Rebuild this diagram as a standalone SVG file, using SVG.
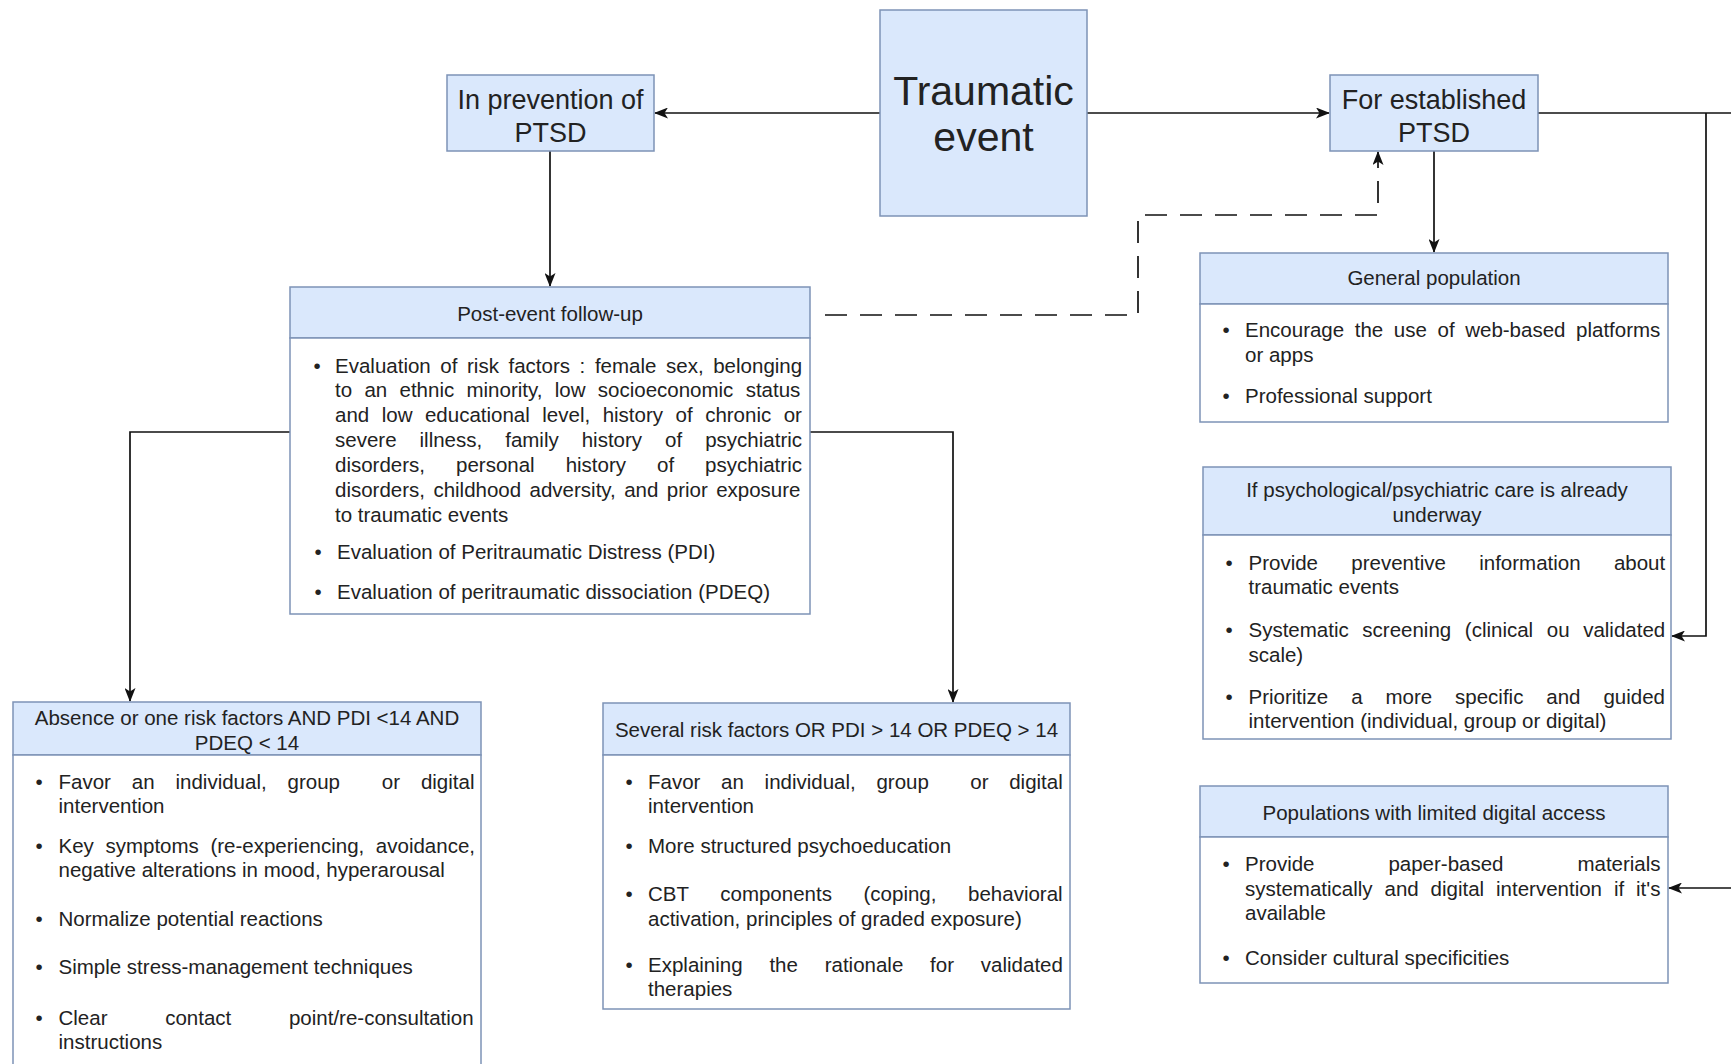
<svg xmlns="http://www.w3.org/2000/svg" width="1731" height="1064" viewBox="0 0 1731 1064">
<style>
.hdr{fill:#dae8fc;stroke:#7d93b6;stroke-width:1.5}
.bdy{fill:#ffffff;stroke:#7d93b6;stroke-width:1.5}
.t{font-family:"Liberation Sans",Arial,sans-serif;font-size:20.5px;fill:#222}
.big{font-family:"Liberation Sans",Arial,sans-serif;font-size:27px;fill:#222;text-anchor:middle}
.c{text-anchor:middle}
.conn{fill:none;stroke:#111;stroke-width:1.7}
.dash{stroke-dasharray:22 13}
</style>
<defs>
<marker id="arr" viewBox="0 0 14 11" refX="13" refY="5.5" markerWidth="14" markerHeight="11" markerUnits="userSpaceOnUse" orient="auto">
<path d="M0,0 L14,5.5 L0,11 L3.5,5.5 Z" fill="#111"/>
</marker>
</defs>
<rect width="1731" height="1064" fill="#ffffff"/>

<g id="connectors">
<path class="conn" d="M880,113 H655" marker-end="url(#arr)"/>
<path class="conn" d="M1087,113 H1329" marker-end="url(#arr)"/>
<path class="conn" d="M1538,113 H1731"/>
<path class="conn" d="M1706,113 V636 H1672" marker-end="url(#arr)"/>
<path class="conn" d="M1731,888 H1669" marker-end="url(#arr)"/>
<path class="conn" d="M550,151 V286" marker-end="url(#arr)"/>
<path class="conn" d="M1434,151 V252" marker-end="url(#arr)"/>
<path class="conn" d="M290,432 H130 V701" marker-end="url(#arr)"/>
<path class="conn" d="M810,432 H953 V702" marker-end="url(#arr)"/>
<path class="conn dash" d="M825,315 H1138 V215 H1378 V152" marker-end="url(#arr)"/>
</g>

<g id="traumatic-event">
<rect class="hdr" x="880" y="10" width="207" height="206"/>
<text class="t c" x="983.5" y="104.5" style="font-size:41px">Traumatic</text>
<text class="t c" x="983.5" y="151" style="font-size:41px">event</text>
</g>

<g id="prevention">
<rect class="hdr" x="447" y="75" width="207" height="76"/>
<text class="big" x="550.5" y="109">In prevention of</text>
<text class="big" x="550.5" y="142">PTSD</text>
</g>

<g id="established">
<rect class="hdr" x="1330" y="75" width="208" height="76"/>
<text class="big" x="1434" y="109">For established</text>
<text class="big" x="1434" y="142">PTSD</text>
</g>

<g id="post-event">
<rect class="hdr" x="290" y="287" width="520" height="51"/>
<rect class="bdy" x="290" y="338" width="520" height="276"/>
<text class="t c" x="550" y="320.5">Post-event follow-up</text>
<text class="t c" x="317" y="373">•</text>
<text class="t" x="335" y="373" style="word-spacing:3.9px">Evaluation of risk factors : female sex, belonging</text>
<text class="t" x="335" y="397" style="word-spacing:6.6px">to an ethnic minority, low socioeconomic status</text>
<text class="t" x="335" y="422" style="word-spacing:6.8px">and low educational level, history of chronic or</text>
<text class="t" x="335" y="447" style="word-spacing:17.3px">severe illness, family history of psychiatric</text>
<text class="t" x="335" y="472" style="word-spacing:25.3px">disorders, personal history of psychiatric</text>
<text class="t" x="335" y="497" style="word-spacing:2.7px">disorders, childhood adversity, and prior exposure</text>
<text class="t" x="335" y="522">to traumatic events</text>
<text class="t c" x="318" y="559">•</text>
<text class="t" x="337" y="559">Evaluation of Peritraumatic Distress (PDI)</text>
<text class="t c" x="318" y="599">•</text>
<text class="t" x="337" y="599">Evaluation of peritraumatic dissociation (PDEQ)</text>
</g>

<g id="general-population">
<rect class="hdr" x="1200" y="253" width="468" height="51"/>
<rect class="bdy" x="1200" y="304" width="468" height="118"/>
<text class="t c" x="1434" y="285">General population</text>
<text class="t c" x="1226" y="337">•</text>
<text class="t" x="1245" y="337" style="word-spacing:4.9px">Encourage the use of web-based platforms</text>
<text class="t" x="1245" y="362">or apps</text>
<text class="t c" x="1226" y="403">•</text>
<text class="t" x="1245" y="403">Professional support</text>
</g>

<g id="care-underway">
<rect class="hdr" x="1203" y="467" width="468" height="68"/>
<rect class="bdy" x="1203" y="535" width="468" height="204"/>
<text class="t c" x="1437" y="497">If psychological/psychiatric care is already</text>
<text class="t c" x="1437" y="522">underway</text>
<text class="t c" x="1229" y="570">•</text>
<text class="t" x="1248.5" y="570" style="word-spacing:27.6px">Provide preventive information about</text>
<text class="t" x="1248.5" y="594">traumatic events</text>
<text class="t c" x="1229" y="637">•</text>
<text class="t" x="1248.5" y="637" style="word-spacing:7.9px">Systematic screening (clinical ou validated</text>
<text class="t" x="1248.5" y="662">scale)</text>
<text class="t c" x="1229" y="704">•</text>
<text class="t" x="1248.5" y="704" style="word-spacing:17.2px">Prioritize a more specific and guided</text>
<text class="t" x="1248.5" y="728">intervention (individual, group or digital)</text>
</g>

<g id="limited-digital">
<rect class="hdr" x="1200" y="786" width="468" height="51"/>
<rect class="bdy" x="1200" y="837" width="468" height="146"/>
<text class="t c" x="1434" y="819.5">Populations with limited digital access</text>
<text class="t c" x="1226" y="871">•</text>
<text class="t" x="1245" y="871" style="word-spacing:68.2px">Provide paper-based materials</text>
<text class="t" x="1245" y="896" style="word-spacing:6.2px">systematically and digital intervention if it's</text>
<text class="t" x="1245" y="920">available</text>
<text class="t c" x="1226" y="965">•</text>
<text class="t" x="1245" y="965">Consider cultural specificities</text>
</g>

<g id="low-risk">
<rect class="hdr" x="13" y="702" width="468" height="53"/>
<rect class="bdy" x="13" y="755" width="468" height="330"/>
<text class="t c" x="247" y="724.5">Absence or one risk factors AND PDI &lt;14 AND</text>
<text class="t c" x="247" y="750">PDEQ &lt; 14</text>
<text class="t c" x="39" y="789">•</text>
<text class="t" x="58.5" y="789" style="word-spacing:15.2px">Favor an individual, group&#160; or digital</text>
<text class="t" x="58.5" y="813">intervention</text>
<text class="t c" x="39" y="853">•</text>
<text class="t" x="58.5" y="853" style="word-spacing:5.9px">Key symptoms (re-experiencing, avoidance,</text>
<text class="t" x="58.5" y="877">negative alterations in mood, hyperarousal</text>
<text class="t c" x="39" y="926">•</text>
<text class="t" x="58.5" y="926">Normalize potential reactions</text>
<text class="t c" x="39" y="974">•</text>
<text class="t" x="58.5" y="974">Simple stress-management techniques</text>
<text class="t c" x="39" y="1025">•</text>
<text class="t" x="58.5" y="1025" style="word-spacing:52px">Clear contact point/re-consultation</text>
<text class="t" x="58.5" y="1049">instructions</text>
</g>

<g id="high-risk">
<rect class="hdr" x="603" y="703" width="467" height="52"/>
<rect class="bdy" x="603" y="755" width="467" height="254"/>
<text class="t c" x="836.5" y="736.5">Several risk factors OR PDI &gt; 14 OR PDEQ &gt; 14</text>
<text class="t c" x="629" y="789">•</text>
<text class="t" x="648" y="789" style="word-spacing:15px">Favor an individual, group&#160; or digital</text>
<text class="t" x="648" y="813">intervention</text>
<text class="t c" x="629" y="853">•</text>
<text class="t" x="648" y="853">More structured psychoeducation</text>
<text class="t c" x="629" y="901">•</text>
<text class="t" x="648" y="901" style="word-spacing:25.9px">CBT components (coping, behavioral</text>
<text class="t" x="648" y="926">activation, principles of graded exposure)</text>
<text class="t c" x="629" y="972">•</text>
<text class="t" x="648" y="972" style="word-spacing:21.1px">Explaining the rationale for validated</text>
<text class="t" x="648" y="996">therapies</text>
</g>
</svg>
